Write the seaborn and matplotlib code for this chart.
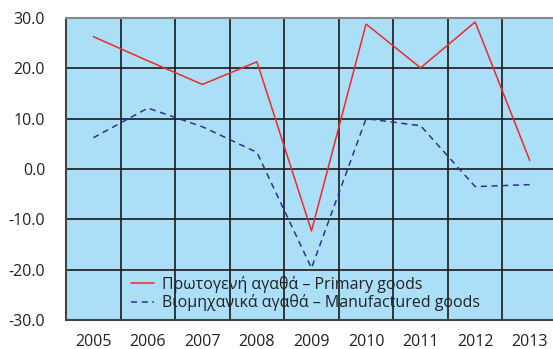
import matplotlib
matplotlib.use("Agg")
import matplotlib.pyplot as plt
from matplotlib.ticker import FixedLocator, FuncFormatter
import seaborn as sns
import pandas as pd

years = ["2005", "2006", "2007", "2008", "2009", "2010", "2011", "2012", "2013"]
primary = [26.3, 21.5, 16.8, 21.3, -12.3, 28.8, 20.1, 29.2, 1.7]
manufactured = [6.2, 12.1, 8.4, 3.3, -19.7, 10.0, 8.6, -3.5, -3.1]
label_primary = "Πρωτογενή αγαθά – Primary goods"
label_manuf = "Βιομηχανικά αγαθά – Manufactured goods"

df = pd.DataFrame({
    "year": years * 2,
    "value": primary + manufactured,
    "series": [label_primary] * len(years) + [label_manuf] * len(years),
})

sns.set_style("white")
plt.rcParams["font.family"] = ["Open Sans", "DejaVu Sans"]

fig = plt.figure(figsize=(5.53, 3.49), dpi=100)
ax = fig.add_axes([66 / 553, 1 - 320 / 349, (557 - 66) / 553, (320 - 18) / 349])
ax.set_facecolor("#ABDFF8")

sns.lineplot(
    data=df, x="year", y="value", hue="series", style="series",
    palette={label_primary: "#EE2A2A", label_manuf: "#2E3192"},
    dashes={label_primary: (None, None), label_manuf: (4, 3)},
    linewidth=1.1, ax=ax, sort=False,
)

ax.set_xlim(-0.5, len(years) - 0.5)
ax.set_ylim(-30, 30)
ax.yaxis.set_major_locator(FixedLocator([-30, -20, -10, 0, 10, 20, 30]))
ax.yaxis.set_major_formatter(FuncFormatter(lambda v, p: f"{v:.1f}".replace("−", "-")))
ax.xaxis.set_minor_locator(FixedLocator([i - 0.5 for i in range(len(years) + 1)]))

ax.grid(True, axis="y", which="major", color="#1a1a1a", linewidth=1.2)
ax.grid(True, axis="x", which="minor", color="#1a1a1a", linewidth=1.2)
ax.grid(False, axis="x", which="major")
ax.set_axisbelow(True)

ax.tick_params(axis="both", which="both", length=0, labelsize=11.5, colors="#222222")
ax.tick_params(axis="y", pad=15)
ax.tick_params(axis="x", pad=10)
ax.set_xlabel("")
ax.set_ylabel("")

for side in ["top", "right"]:
    ax.spines[side].set_color("#888888")
    ax.spines[side].set_linewidth(1.5)
for side in ["left", "bottom"]:
    ax.spines[side].set_color("#444444")
    ax.spines[side].set_linewidth(1.5)

leg = ax.legend(
    loc="lower left", bbox_to_anchor=(0.12, 0.008), frameon=False,
    fontsize=11.5, handlelength=1.4, handletextpad=0.5, labelspacing=0.1,
    borderaxespad=0.0,
)
for t in leg.get_texts():
    t.set_color("#222222")

fig.savefig("out.png", dpi=100)
